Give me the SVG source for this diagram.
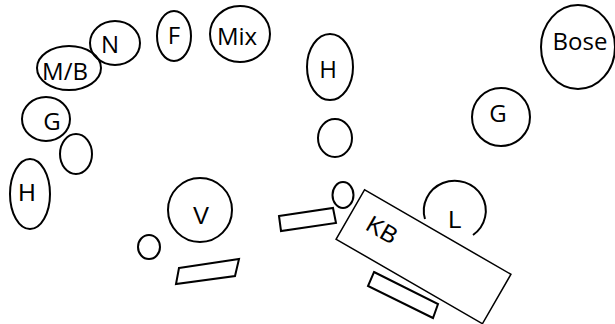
<svg xmlns="http://www.w3.org/2000/svg" width="615" height="324" viewBox="0 0 615 324">
<style>
.s{fill:none;stroke:#000;stroke-width:2}
.r{fill:#fff;stroke:#000;stroke-width:1.5}
.t{font-family:"Open Sans","Liberation Sans",sans-serif;font-size:24px;fill:#000;text-anchor:middle}
.a{font-family:"Liberation Sans",Arial,sans-serif;font-size:24px;fill:#000;text-anchor:middle}
</style>
<rect width="615" height="324" fill="#fff"/>
<g id="n-M-B"><ellipse class="s" cx="69" cy="68" rx="32" ry="22"/><text class="t" x="65" y="80">M/B</text></g>
<g id="n-N"><ellipse class="s" cx="115" cy="43" rx="25" ry="22"/><text class="t" x="110" y="53">N</text></g>
<g id="n-F"><ellipse class="s" cx="174" cy="36" rx="17" ry="25"/><text class="t" x="174" y="44">F</text></g>
<g id="n-Mix"><ellipse class="s" cx="240" cy="34" rx="30" ry="28"/><text class="t" x="237" y="45">Mix</text></g>
<g id="n-G1"><ellipse class="s" cx="46" cy="119" rx="24" ry="22"/><text class="t" x="52" y="130">G</text></g>
<g id="n-o1"><ellipse class="s" cx="76" cy="154" rx="16" ry="20"/></g>
<g id="n-H1"><ellipse class="s" cx="30" cy="194" rx="20" ry="35"/><text class="a" x="27" y="201">H</text></g>
<g id="n-V"><circle class="s" cx="200" cy="210" r="32"/><text class="a" x="201" y="224">V</text></g>
<g id="n-o2"><ellipse class="s" cx="149" cy="247" rx="11" ry="12"/></g>
<g id="n-p1"><polygon class="s" points="179,268 239,259 235,276 176,284"/></g>
<g id="n-p2"><polygon class="s" points="279,216 333,208 336,223 281,231"/></g>
<g id="n-H2"><ellipse class="s" cx="330" cy="67" rx="23" ry="33"/><text class="t" x="328" y="78">H</text></g>
<g id="n-o3"><ellipse class="s" cx="335" cy="138" rx="17" ry="19"/></g>
<g id="n-G2"><circle class="s" cx="501" cy="117" r="29"/><text class="t" x="498" y="122">G</text></g>
<g id="n-Bose"><ellipse class="s" cx="578" cy="47" rx="37" ry="42"/><text class="t" x="580" y="50">Bose</text></g>
<g id="n-o4"><ellipse class="s" cx="343" cy="195" rx="10.5" ry="13"/></g>
<g id="n-L"><path class="s" d="M425 219 A31 30 0 1 1 473 235"/><text class="a" x="455" y="228">L</text></g>
<g id="n-KB"><rect class="r" x="-84.5" y="-28.5" width="169" height="57" transform="translate(423.5,256.75) rotate(30)"/><text class="a" transform="translate(378,237) rotate(30)" x="0" y="0">KB</text></g>
<g id="n-p3"><polygon class="s" points="374,272 438,304 433,318 368,286"/></g>
<g id="connectors"></g>
</svg>
